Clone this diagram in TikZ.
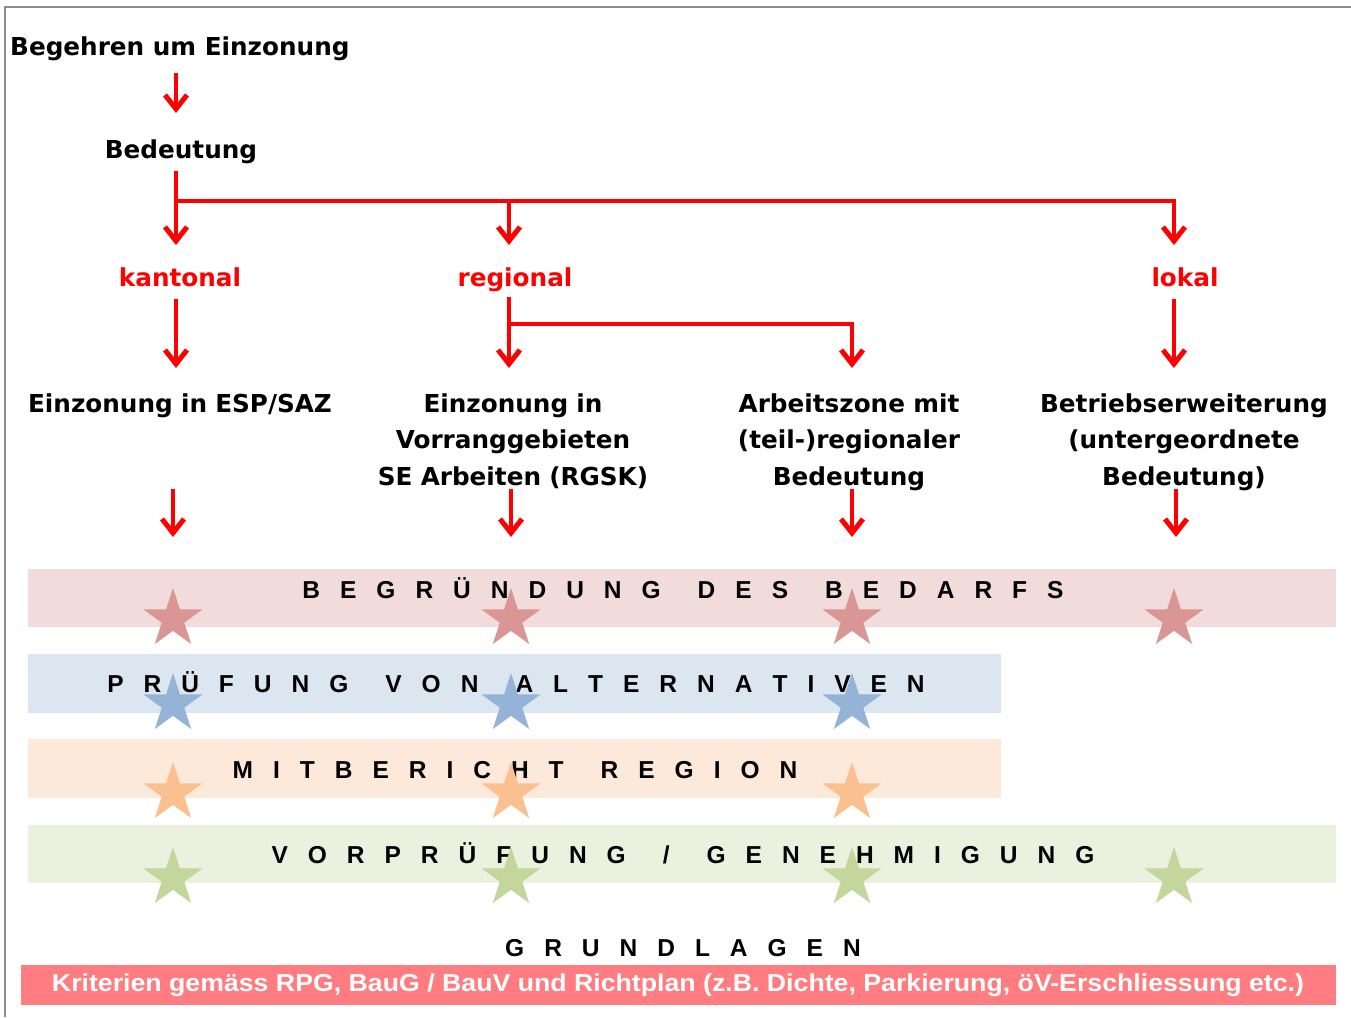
\documentclass[tikz,border=0pt]{standalone}
\usepackage{fontspec}
\usepackage{graphicx}
\setmainfont{DejaVu Sans}
\newfontfamily\lsans{Liberation Sans}
\usetikzlibrary{arrows.meta,shapes.geometric}
\definecolor{pinkband}{HTML}{F2DCDB}
\definecolor{blueband}{HTML}{DCE6F1}
\definecolor{peachband}{HTML}{FDE9D9}
\definecolor{greenband}{HTML}{EBF1DE}
\definecolor{redband}{HTML}{FF7C80}
\definecolor{pinkstar}{HTML}{DA9694}
\definecolor{bluestar}{HTML}{95B3D7}
\definecolor{peachstar}{HTML}{FAC090}
\definecolor{greenstar}{HTML}{C3D69B}
\definecolor{framegray}{HTML}{8C8C8C}
% spaced capitals
\def\spc#1{\spcfirst#1\relax}
\def\spcfirst#1{#1\spcrest}
\def\spcrest#1{%
  \ifx\relax#1\let\next\relax
  \else\ifx|#1\def\next{\kern37pt\spcfirst}%
  \else\def\next{\kern20pt #1\spcrest}\fi\fi
  \next}
\tikzset{
  redarrow/.style={draw=red, line width=4pt, -{Straight Barb[length=14pt,width=22pt,line width=5pt]}},
  redline/.style={draw=red, line width=4pt},
  blacktxt/.style={font=\fontsize{24.7}{36.5}\selectfont\bfseries, inner sep=0pt, anchor=base},
  redtxt/.style={blacktxt, text=red},
  boxtxt/.style={blacktxt, text width=340pt, align=center},
  spacedtxt/.style={font=\lsans\fontsize{24.5}{28}\selectfont\bfseries, inner sep=0pt, anchor=base},
  bigstar/.style={star, star points=5, star point ratio=2.618, minimum size=62pt, inner sep=0pt, draw=none},
}
\begin{document}
\begin{tikzpicture}[x=1pt,y=-1pt]
\useasboundingbox (0,0) rectangle (1351,1017);
% page edge
\draw[framegray, line width=2pt] (1351,7) -- (5,7) -- (5,1017);
% bands
\fill[pinkband] (28,569) rectangle (1336,627);
\fill[blueband] (28,654) rectangle (1001,713);
\fill[peachband] (28,739) rectangle (1001,798);
\fill[greenband] (28,825) rectangle (1336,883);
\fill[redband] (21,965) rectangle (1336,1005);
% texts
\node[blacktxt, anchor=base west] (begehren) at (10,55) {Begehren um Einzonung};
\node[blacktxt] (bedeutung) at (181,158) {Bedeutung};
\node[redtxt] (kantonal) at (180,286) {kantonal};
\node[redtxt] (regional) at (515,286) {regional};
\node[redtxt] (lokal) at (1185,286) {lokal};
\node[boxtxt] (esp) at (180,412) {Einzonung in ESP/SAZ};
\node[boxtxt] (vorrang) at (513,412) {Einzonung in\\Vorranggebieten\\SE Arbeiten (RGSK)};
\node[boxtxt] (arbeitszone) at (849,412) {Arbeitszone mit\\(teil-)regionaler\\Bedeutung};
\node[boxtxt] (betrieb) at (1184,412) {Betriebserweiterung\\(untergeordnete\\Bedeutung)};
\node[spacedtxt] (bedarf) at (683,598) {\spc{BEGRÜNDUNG|DES|BEDARFS}};
\node[spacedtxt] (alternativen) at (516,692) {\spc{PRÜFUNG|VON|ALTERNATIVEN}};
\node[spacedtxt] (mitbericht) at (515,778) {\spc{MITBERICHT|REGION}};
\node[spacedtxt] (vorpruefung) at (683,863) {\spc{VORPRÜFUNG|/|GENEHMIGUNG}};
\node[spacedtxt] (grundlagen) at (683,956) {\spc{GRUNDLAGEN}};
\node[font=\lsans\fontsize{24.5}{28}\selectfont\bfseries, text=white, inner sep=0pt, anchor=base] (kriterien) at (678,991)
  {\resizebox{1252pt}{\height}{Kriterien gemäss RPG, BauG / BauV und Richtplan (z.B. Dichte, Parkierung, öV-Erschliessung etc.)}};
% stars
\foreach \x/\n in {173/a,511/b,852/c,1174/d}{
  \node[bigstar, fill=pinkstar] (sp\n) at (\x,619) {};
  \node[bigstar, fill=greenstar] (sg\n) at (\x,878) {};
}
\foreach \x/\n in {173/a,511/b,852/c}{
  \node[bigstar, fill=bluestar] (sb\n) at (\x,704) {};
  \node[bigstar, fill=peachstar] (so\n) at (\x,793) {};
}
% connector coordinates
\coordinate (c1s) at (176,73);   \coordinate (c1e) at (176,113);
\coordinate (c2s) at (176,171);  \coordinate (c2m) at (176,201);
\coordinate (c2e) at (176,245);
\coordinate (c2r) at (1176,201);
\coordinate (c3s) at (509,201);  \coordinate (c3e) at (509,245);
\coordinate (c4s) at (1174,201); \coordinate (c4e) at (1174,245);
\coordinate (c5s) at (176,299);  \coordinate (c5e) at (176,368);
\coordinate (c6s) at (509,297);  \coordinate (c6m) at (509,324);
\coordinate (c6e) at (509,368);  \coordinate (c6r) at (853,324);
\coordinate (c7s) at (852,322);  \coordinate (c7e) at (852,368);
\coordinate (c8s) at (1174,299); \coordinate (c8e) at (1174,368);
\coordinate (d1s) at (173,489);  \coordinate (d1e) at (173,537);
\coordinate (d2s) at (511,489);  \coordinate (d2e) at (511,537);
\coordinate (d3s) at (852,489);  \coordinate (d3e) at (852,537);
\coordinate (d4s) at (1176,489); \coordinate (d4e) at (1176,537);
% connectors
\draw[redarrow] (c1s) -- (c1e);
\draw[redline] (c2m) -- (c2r);
\draw[redarrow] (c2s) -- (c2e);
\draw[redarrow] (c3s) -- (c3e);
\draw[redarrow] (c4s) -- (c4e);
\draw[redarrow] (c5s) -- (c5e);
\draw[redline] (c6m) -- (c6r);
\draw[redarrow] (c6s) -- (c6e);
\draw[redarrow] (c7s) -- (c7e);
\draw[redarrow] (c8s) -- (c8e);
\draw[redarrow] (d1s) -- (d1e);
\draw[redarrow] (d2s) -- (d2e);
\draw[redarrow] (d3s) -- (d3e);
\draw[redarrow] (d4s) -- (d4e);
\end{tikzpicture}
\end{document}
